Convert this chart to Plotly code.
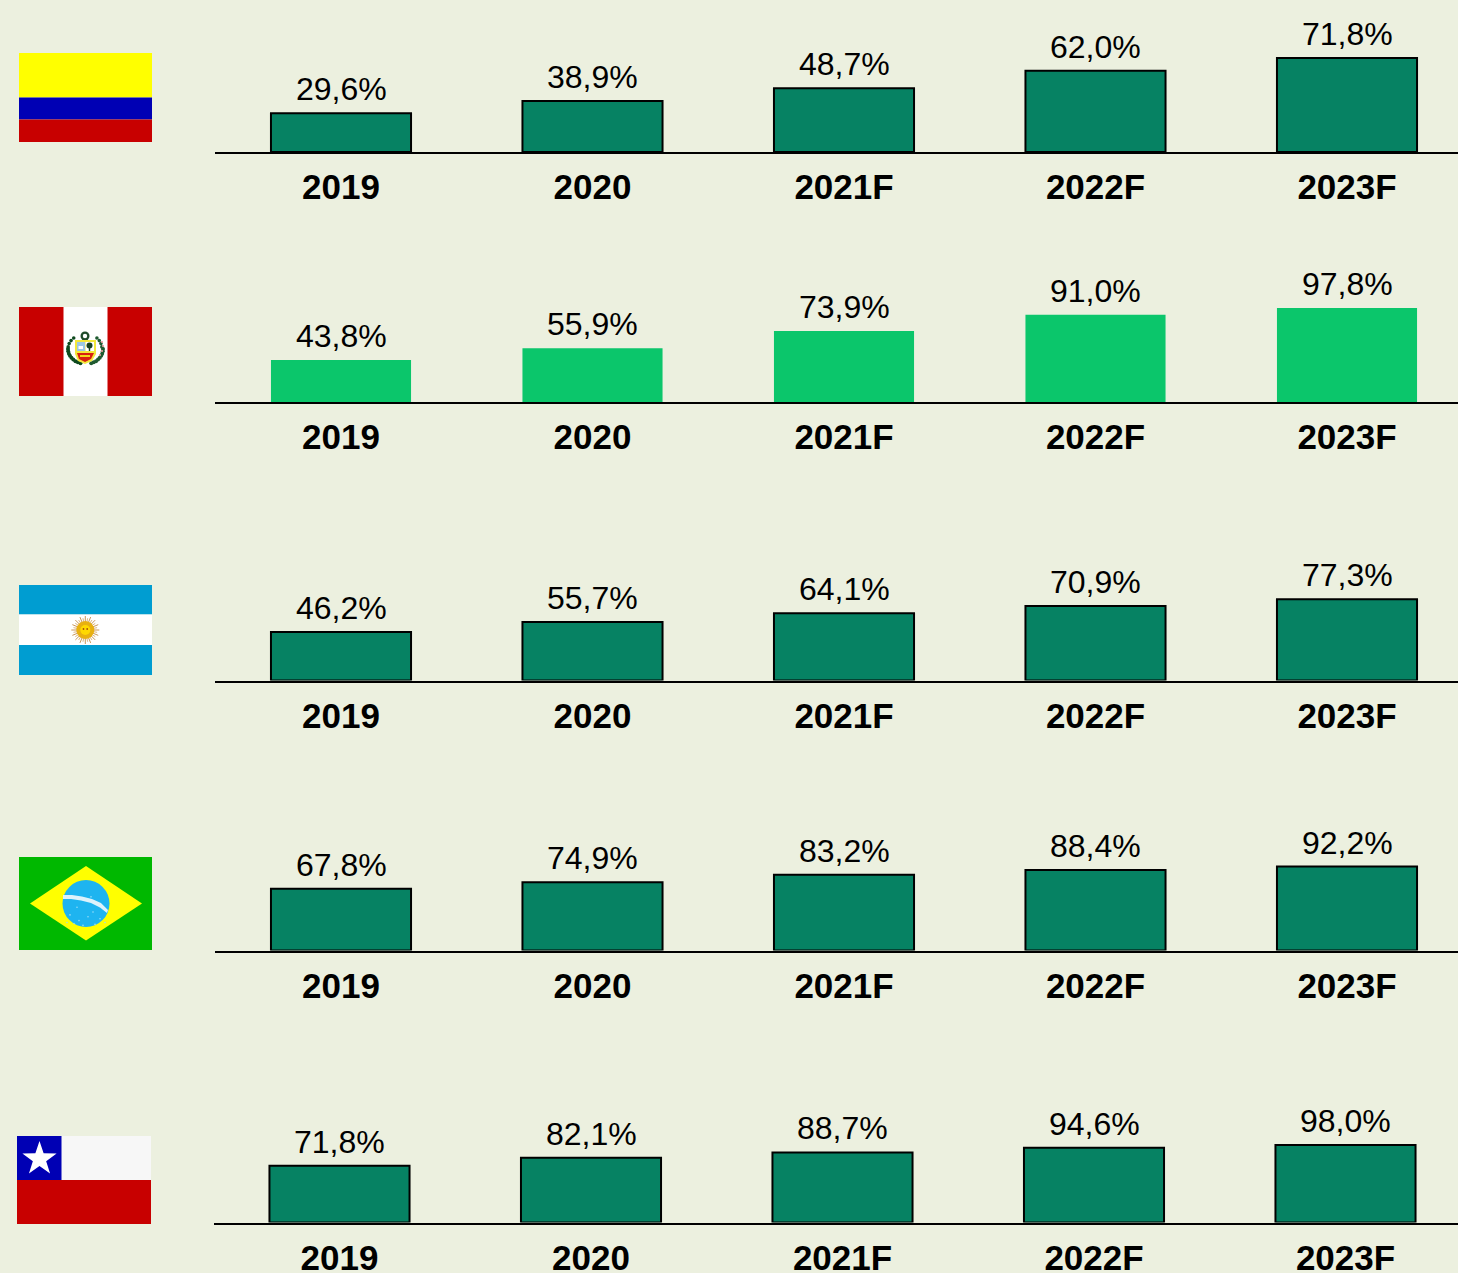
import math
import plotly.graph_objects as go

W, H = 1458, 1273
BG = "#ECF0DF"
DARK = "#068263"
LIGHT = "#0BC66B"

years = ["2019", "2020", "2021F", "2022F", "2023F"]
colombia = [29.6, 38.9, 48.7, 62.0, 71.8]
peru = [43.8, 55.9, 73.9, 91.0, 97.8]
argentina = [46.2, 55.7, 64.1, 70.9, 77.3]
brazil = [67.8, 74.9, 83.2, 88.4, 92.2]
chile = [71.8, 82.1, 88.7, 94.6, 98.0]

# values, baseline px, px per %, first-bar centre px, bar colour, outline
rows = [
    (colombia, 152, 1.31, 341, DARK, 2),
    (peru, 402, 0.96, 341, LIGHT, 0),
    (argentina, 680.5, 1.05, 341, DARK, 2),
    (brazil, 950.5, 0.91, 341, DARK, 2),
    (chile, 1222.5, 0.79, 339.5, DARK, 2),
]
SPACING = 251.5
PANEL_H = 150


def px(x):
    return x / W


def py(y):
    return 1 - y / H


fig = go.Figure()
layout_axes = {}
annotations = []
for i, (vals, base, scale, x0, col, lw) in enumerate(rows):
    n = "" if i == 0 else str(i + 1)
    fig.add_trace(go.Bar(
        x=years, y=vals, xaxis="x" + n, yaxis="y" + n, width=0.557,
        marker=dict(color=col, line=dict(color="#000000", width=lw)),
        showlegend=False, hoverinfo="skip",
    ))
    for j, v in enumerate(vals):
        annotations.append(dict(
            x=j, y=v, xref="x" + n, yref="y" + n, showarrow=False,
            text=f"{v:.1f}%".replace(".", ","), yanchor="bottom", yshift=4,
            font=dict(family="Liberation Sans", size=32, color="#000000"),
        ))
    left = x0 - SPACING / 2
    layout_axes["xaxis" + n] = dict(
        domain=[px(left), 1], anchor="y" + n, type="category", automargin=False,
        range=[-0.5, (W - x0) / SPACING],
        showline=True, linecolor="#000000", linewidth=2, showgrid=False, zeroline=False,
        ticks="outside", ticklen=3, tickcolor="rgba(0,0,0,0)",
        tickfont=dict(family="Liberation Sans", size=35, color="#000000", weight="bold"),
    )
    layout_axes["yaxis" + n] = dict(
        domain=[py(base), py(base - PANEL_H)], anchor="x" + n, automargin=False,
        range=[0, PANEL_H / scale], visible=False,
    )

shapes = []


def rect(x0, y0, x1, y1, color):
    shapes.append(dict(type="rect", xref="paper", yref="paper", x0=px(x0), x1=px(x1),
                       y0=py(y1), y1=py(y0), fillcolor=color, line=dict(width=0)))


def poly(points, color):
    path = "M " + " L ".join(f"{px(a):.5f},{py(b):.5f}" for a, b in points) + " Z"
    shapes.append(dict(type="path", xref="paper", yref="paper", path=path,
                       fillcolor=color, line=dict(width=0)))


def circle(cx, cy, rx, color, ry=None):
    ry = rx if ry is None else ry
    shapes.append(dict(type="circle", xref="paper", yref="paper", x0=px(cx - rx), x1=px(cx + rx),
                       y0=py(cy + ry), y1=py(cy - ry), fillcolor=color, line=dict(width=0)))


def seg(x0, y0, x1, y1, color, w=1):
    shapes.append(dict(type="line", xref="paper", yref="paper", x0=px(x0), x1=px(x1),
                       y0=py(y0), y1=py(y1), line=dict(color=color, width=w)))


RED, BLUE = "#C80000", "#0000B4"
# Colombia
rect(19, 53, 152, 97.5, "#FFFF00")
rect(19, 97.5, 152, 119.5, BLUE)
rect(19, 119.5, 152, 142, RED)
# Peru
rect(19, 307, 152, 396, RED)
rect(63.5, 307, 107.5, 396, "#FFFFFF")
for k in range(9):
    t = math.radians(180 + k * 9)
    circle(86 + 18 * math.cos(t), 349 - 15 * math.sin(t), 2, "#0E4A1E")
    t2 = math.radians(-k * 9)
    circle(86 + 17 * math.cos(t2), 349 - 15 * math.sin(t2), 2, "#1F5A30")
for k in range(4):
    t = math.radians(8 + k * 13)
    circle(86 + 16 * math.cos(t), 349 - 15 * math.sin(t), 1.8, "#1F5A30")
    t = math.radians(172 - k * 13)
    circle(86 + 18 * math.cos(t), 349 - 15 * math.sin(t), 1.8, "#0E4A1E")
for cx, cy in [(102, 342), (103, 346), (102, 351), (100, 355)]:
    circle(cx, cy, 1.1, "#E8A0A0")
circle(85, 336, 4.5, "#1F4A2A")
circle(85, 336, 2.2, "#FFFFFF")
poly([(75, 340), (96, 340), (96, 354), (92, 361), (85, 364), (78, 361), (75, 354)], "#F3E83A")
rect(77, 342, 85, 351, "#9CC8E4")
rect(85.5, 342, 94, 351, "#FFFFFF")
circle(89.5, 345.5, 3, "#16401F")
rect(88.8, 346, 90.2, 351, "#16401F")
rect(78.5, 346, 83, 349, "#FFFFFF")
poly([(77, 353), (94, 353), (91, 359), (85, 362), (79, 359)], "#D82010")
rect(80, 355, 90, 357, "#F3D81A")
# Argentina
rect(19, 585, 152, 614.5, "#009DD1")
rect(19, 614.5, 152, 645, "#FFFFFF")
rect(19, 645, 152, 675, "#009DD1")
for k in range(32):
    t = math.radians(k * 360 / 32)
    r = 14 if k % 2 == 0 else 12
    seg(85.3, 630, 85.3 + r * math.cos(t), 630 + r * math.sin(t),
        "#C9975A" if k % 2 == 0 else "#DDB57F", 1)
circle(85.3, 630, 9, "#E8B010")
circle(85.3, 630, 5, "#FFD800")
circle(83.5, 629, 0.9, "#A8500A")
circle(87.2, 629, 0.9, "#A8500A")
# Brazil
rect(19, 857, 152, 950, "#00B800")
poly([(86, 866), (142, 903.5), (86, 940.5), (30, 903.5)], "#FFFF00")
circle(86, 903.5, 23.5, "#1EB4F0")
band_top = [(63, 895), (72, 895), (82, 896.5), (92, 899), (101, 903), (108, 910)]
band_bot = [(107, 913), (100, 907.5), (91, 903), (81, 900.5), (71, 899), (63, 899)]
poly(band_top + band_bot, "#DDF2FB")
for dx, dy in [(-16, 12), (-9, 4), (-19, 20), (-7, 18), (2, 14), (9, 22), (14, 16), (19, 20), (-3, 23), (-12, 21), (7, 9), (5, -7)]:
    circle(86 + dx, 903.5 + dy * 0.95, 0.8, "#9ADCF7")
# Chile
rect(17, 1136, 151, 1180, "#F7F7F7")
rect(17, 1136, 61.5, 1180, BLUE)
rect(17, 1180, 151, 1224, RED)
star = []
for k in range(10):
    r = 18 if k % 2 == 0 else 7
    t = math.radians(-90 + 36 * k)
    star.append((39.5 + r * math.cos(t), 1159 + r * math.sin(t)))
poly(star, "#FFFFFF")

fig.update_layout(
    width=W, height=H, autosize=False,
    margin=dict(l=0, r=0, t=0, b=0),
    paper_bgcolor=BG, plot_bgcolor="rgba(0,0,0,0)",
    shapes=shapes, annotations=annotations, showlegend=False,
    **layout_axes,
)
fig.write_html(
    "out.html",
    config=dict(displayModeBar=False, responsive=False),
    default_width=f"{W}px", default_height=f"{H}px",
    post_script="document.documentElement.style.background='%s';document.body.style.margin='0';document.body.style.overflow='hidden';" % BG,
)
